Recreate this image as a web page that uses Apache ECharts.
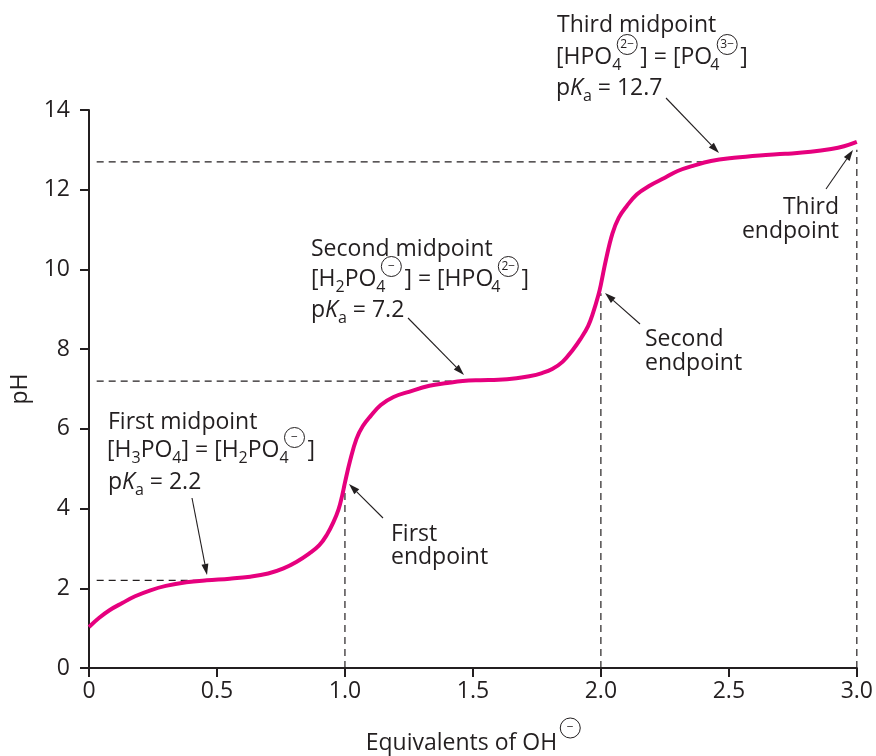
<!DOCTYPE html>
<html>
<head>
<meta charset="utf-8">
<style>
html, body { margin: 0; padding: 0; background: #fff; }
#main { width: 876px; height: 756px; }
</style>
<script src="https://cdn.jsdelivr.net/npm/echarts@6/dist/echarts.min.js"></script>
</head>
<body>
<div id="main"></div>
<script>
// titration curve of H3PO4 with OH-
var equiv = [0, 0.04, 0.08, 0.13, 0.18, 0.24, 0.3, 0.38, 0.46, 0.55, 0.63, 0.7, 0.76, 0.81, 0.86, 0.9, 0.93, 0.955, 0.975, 0.99, 1.0,
	1.02, 1.045, 1.07, 1.1, 1.14, 1.19, 1.25, 1.33, 1.4, 1.46, 1.53, 1.6, 1.67, 1.72, 1.77, 1.81, 1.85, 1.89, 1.92, 1.95, 1.97, 1.99, 2.0,
	2.02, 2.045, 2.07, 2.1, 2.14, 2.19, 2.25, 2.3, 2.36, 2.43, 2.52, 2.62, 2.72, 2.82, 2.9, 2.95, 3.0];
var ph = [1.03, 1.26, 1.45, 1.63, 1.8, 1.95, 2.06, 2.15, 2.2, 2.24, 2.29, 2.37, 2.5, 2.66, 2.87, 3.08, 3.35, 3.66, 3.98, 4.35, 4.65,
	5.2, 5.75, 6.07, 6.32, 6.6, 6.8, 6.93, 7.08, 7.15, 7.2, 7.22, 7.23, 7.27, 7.32, 7.4, 7.5, 7.68, 7.98, 8.25, 8.58, 8.92, 9.35, 9.62,
	10.25, 10.9, 11.3, 11.58, 11.88, 12.1, 12.3, 12.47, 12.6, 12.72, 12.8, 12.86, 12.9, 12.95, 13.02, 13.09, 13.2];

var xTickLabels = ["0", "0.5", "1.0", "1.5", "2.0", "2.5", "3.0"];
var yTickLabels = ["0", "2", "4", "6", "8", "10", "12", "14"];

// midpoints (pKa) and endpoints, with how far the guide lines run
var pKa = [2.2, 7.2, 12.7];
var pKaGuideEnd = [0.45, 1.46, 2.42];
var endpoints = [1.0, 2.0, 3.0];
var endpointGuideTop = [4.6, 9.4, 13.0];

var ink = "#231f20";
var magenta = "#e6007e";
var FONT = '"Open Sans", "Noto Sans", sans-serif';
var FS = 23;

var myChart = echarts.init(document.getElementById("main"));

// rich text pieces: subscript, stacked subscript, italic K, circled charge
function tok(o){
	o.fontFamily = FONT;
	o.fill = ink;
	return o;
}
var rich = {
	n: tok({fontSize: FS}),
	s: tok({fontSize: 16, height: 29, verticalAlign: "bottom"}),
	s4: tok({fontSize: 16, height: 29, width: 5, verticalAlign: "bottom"}),
	k: tok({fontSize: FS, fontStyle: "italic"}),
	c: tok({fontSize: 12, width: 16, height: 16, lineHeight: 16, padding: 2, align: "center",
		borderColor: ink, borderWidth: 1, borderRadius: 10, verticalAlign: "top"}),
	gap: tok({fontSize: 12})
};

var notes = [
	{x: 557, y: 25, t: "Third midpoint"},
	{x: 556, y: 57, t: "{n|[HPO}{s4|4}{c|2−}{gap| }{n|] = [PO}{s4|4}{c|3−}{gap| }{n|]}"},
	{x: 556, y: 88, t: "{n|p}{k|K}{s|a}{n| = 12.7}"},
	{x: 311, y: 249, t: "Second midpoint"},
	{x: 311, y: 279, t: "{n|[H}{s|2}{n|PO}{s4|4}{c|−}{gap| }{n|] = [HPO}{s4|4}{c|2−}{gap| }{n|]}"},
	{x: 311, y: 310, t: "{n|p}{k|K}{s|a}{n| = 7.2}"},
	{x: 108, y: 422, t: "First midpoint"},
	{x: 107, y: 450, t: "{n|[H}{s|3}{n|PO}{s|4}{n|] = [H}{s|2}{n|PO}{s4|4}{c|−}{gap| }{n|]}"},
	{x: 108, y: 482, t: "{n|p}{k|K}{s|a}{n| = 2.2}"},
	{x: 391, y: 534, t: "First"},
	{x: 391, y: 557, t: "endpoint"},
	{x: 645, y: 339, t: "Second"},
	{x: 645, y: 363, t: "endpoint"},
	{x: 839, y: 207, t: "Third", right: true},
	{x: 839, y: 231, t: "endpoint", right: true}
];

var arrows = [
	[192, 498, 207, 575],
	[383, 518, 349, 484],
	[408, 318, 464, 375],
	[640, 324, 605, 293],
	[666, 98, 719, 153],
	[826, 189, 853, 150]
];

var graphics = [];
notes.forEach(function(n){
	graphics.push({
		type: "text", x: n.x, y: n.y, silent: true,
		style: {
			text: n.t, rich: rich, fontSize: FS, fontFamily: FONT, fill: ink,
			lineHeight: 45, align: n.right ? "right" : "left", verticalAlign: "middle"
		}
	});
});
arrows.forEach(function(a){
	var ang = Math.atan2(a[3] - a[1], a[2] - a[0]);
	var len = 11, hw = 3.5;
	var bx = a[2] - Math.cos(ang) * len, by = a[3] - Math.sin(ang) * len;
	graphics.push({
		type: "line", silent: true,
		shape: {x1: a[0], y1: a[1], x2: bx, y2: by},
		style: {stroke: ink, lineWidth: 1.1}
	});
	graphics.push({
		type: "polygon", silent: true,
		shape: {points: [[a[2], a[3]],
			[bx + Math.sin(ang) * hw, by - Math.cos(ang) * hw],
			[bx - Math.sin(ang) * hw, by + Math.cos(ang) * hw]]},
		style: {fill: ink}
	});
});
//轴标题
graphics.push({
	type: "text", x: 20, y: 389, rotation: Math.PI / 2, silent: true,
	style: {text: "pH", fontSize: FS, fontFamily: FONT, fill: ink, align: "center", verticalAlign: "middle"}
});
graphics.push({
	type: "text", x: 473, y: 743, silent: true,
	style: {
		text: "{n|Equivalents of OH}{gap| }{c|−}", rich: rich, fontSize: FS, fontFamily: FONT, fill: ink,
		lineHeight: 50, align: "center", verticalAlign: "middle"
	}
});

var series = [];
pKa.forEach(function(v, i){
	series.push({
		type: "line", silent: true, symbol: "none", z: 1,
		data: [[0.03, v], [pKaGuideEnd[i], v]],
		lineStyle: {color: ink, width: 1.2, type: [7, 5]}
	});
});
endpoints.forEach(function(v, i){
	series.push({
		type: "line", silent: true, symbol: "none", z: 1,
		data: [[v, 0], [v, endpointGuideTop[i]]],
		lineStyle: {color: ink, width: 1.2, type: [7, 5]}
	});
});
series.push({
	type: "line", silent: true, showSymbol: false, symbol: "none", z: 3,
	smooth: 0.4,
	data: equiv.map(function(x, i){ return [x, ph[i]]; }),
	lineStyle: {color: magenta, width: 4}
});

var axisCommon = {
	type: "value",
	axisLine: {show: true, lineStyle: {color: ink, width: 2}},
	axisTick: {show: true, inside: false, length: 9, lineStyle: {color: ink, width: 2}},
	splitLine: {show: false}
};

myChart.setOption({
	animation: false,
	backgroundColor: "#fff",
	grid: {left: 89, right: 19, top: 110, bottom: 88},
	xAxis: echarts.util.merge({
		min: 0, max: 3, interval: 0.5,
		axisLabel: {fontSize: FS, fontFamily: FONT, color: ink, margin: 12,
			formatter: function(v){ return xTickLabels[Math.round(v / 0.5)]; }}
	}, axisCommon),
	yAxis: echarts.util.merge({
		min: 0, max: 14, interval: 2,
		axisLabel: {fontSize: FS, fontFamily: FONT, color: ink, margin: 19,
			formatter: function(v){ return yTickLabels[Math.round(v / 2)]; }}
	}, axisCommon),
	series: series,
	graphic: graphics
});
</script>
</body>
</html>
